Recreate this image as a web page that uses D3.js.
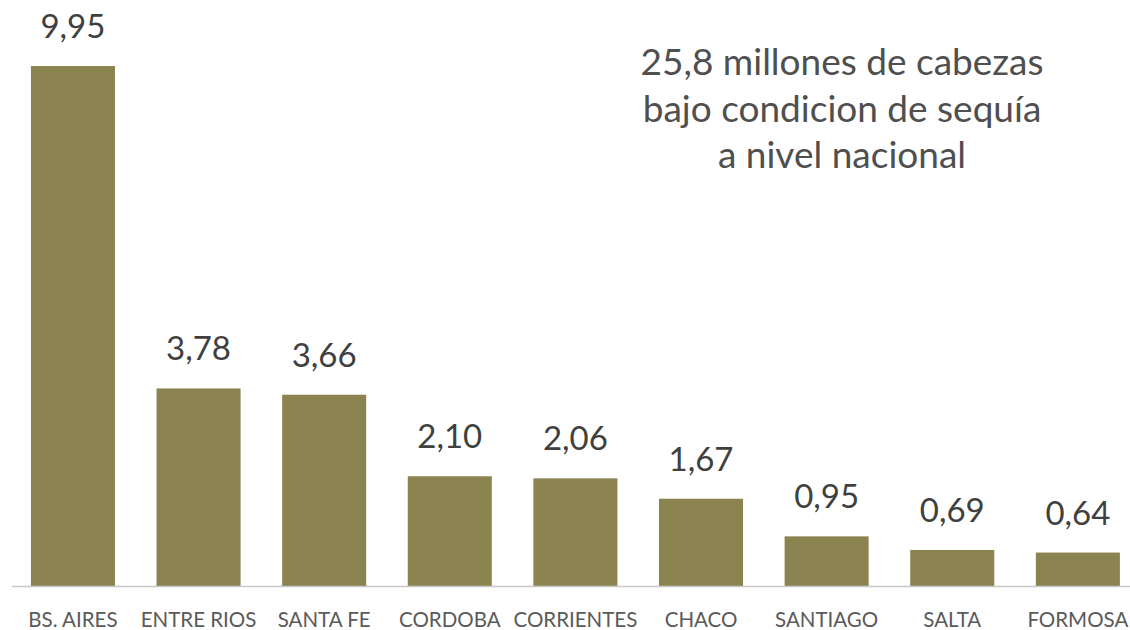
<!DOCTYPE html>
<html><head><meta charset="utf-8">
<script src="https://cdn.jsdelivr.net/npm/d3@7"></script>
<style>body{margin:0;background:#fff;} text{font-family:Lato,"Open Sans",sans-serif;}</style>
</head><body>
<svg id="c" width="1130" height="630"></svg>
<script>
const categories = ["BS. AIRES","ENTRE RIOS","SANTA FE","CORDOBA","CORRIENTES","CHACO","SANTIAGO","SALTA","FORMOSA"];
const values = [9.95,3.78,3.66,2.10,2.06,1.67,0.95,0.69,0.64];
const valueLabels = ["9,95","3,78","3,66","2,10","2,06","1,67","0,95","0,69","0,64"];
const noteLines = ["25,8 millones de cabezas","bajo condicion de sequía","a nivel nacional"];

const svg = d3.select("#c");
const baseY = 586;
const x = d3.scaleBand().domain(categories).range([10.2, 1140.6]).paddingInner(0.331).paddingOuter(0.165);
const y = d3.scaleLinear().domain([0, 10]).range([baseY, baseY - 522.6]);

svg.selectAll("rect.bar").data(values).enter().append("rect")
  .attr("class","bar")
  .attr("x",(d,i)=>x(categories[i]))
  .attr("width",x.bandwidth())
  .attr("y",d=>y(d))
  .attr("height",d=>baseY-y(d))
  .attr("fill","#8b8350");

const axis = d3.axisBottom(x).tickSize(0).tickPadding(26);
const g = svg.append("g").attr("transform",`translate(0,${baseY})`).call(axis);
g.select(".domain").attr("stroke","#c8c8c8").attr("stroke-width",1.5).attr("d","M12,0.5H1130");
g.selectAll("text").attr("font-size",20.5).attr("fill","#5a5a5a").attr("font-family","Lato,'Open Sans',sans-serif");

svg.selectAll("text.val").data(values).enter().append("text")
  .attr("class","val")
  .attr("x",(d,i)=>x(categories[i])+x.bandwidth()/2)
  .attr("y",d=>y(d)-28)
  .attr("text-anchor","middle")
  .attr("font-size",33).attr("fill","#404040")
  .text((d,i)=>valueLabels[i]);

svg.selectAll("text.note").data(noteLines).enter().append("text")
  .attr("class","note")
  .attr("x",842).attr("y",(d,i)=>75+i*46.5)
  .attr("text-anchor","middle")
  .attr("font-size",37).attr("fill","#4f4f4f")
  .text(d=>d);
</script>
</body></html>
